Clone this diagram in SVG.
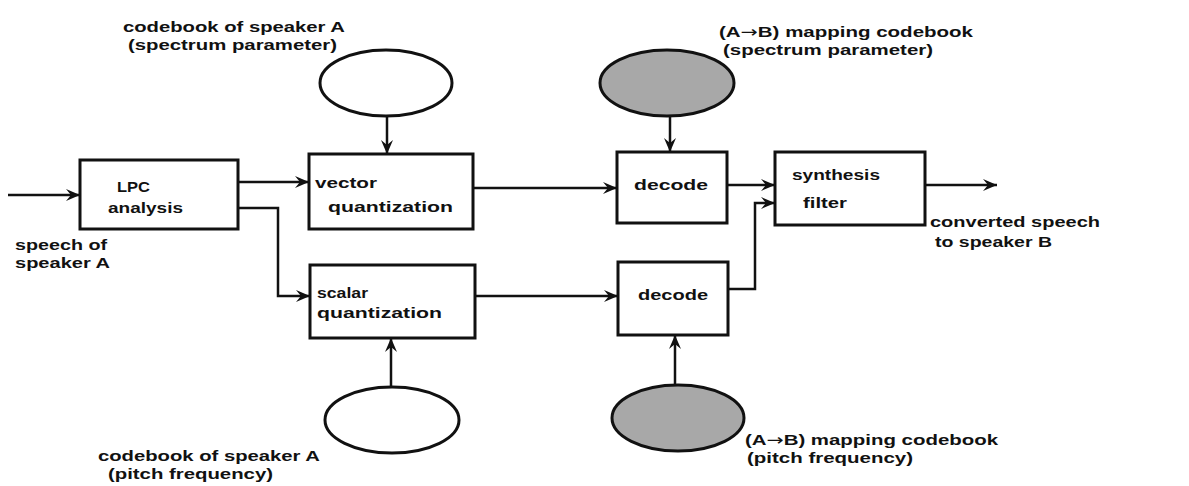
<svg xmlns="http://www.w3.org/2000/svg" width="1189" height="486" viewBox="0 0 1189 486">
<style>
text{font-family:"Liberation Sans",Arial,sans-serif;font-weight:700;font-size:15.5px;fill:#111}
.ar{font-family:"DejaVu Sans",sans-serif;font-weight:400}
.box{fill:none;stroke:#111;stroke-width:3}
.cb{fill:none;stroke:#111;stroke-width:3}
.map{fill:#a8a8a8;stroke:#111;stroke-width:3}
.c{fill:none;stroke:#111;stroke-width:2.5;marker-end:url(#ah)}
</style>
<defs>
<marker id="ah" markerUnits="userSpaceOnUse" markerWidth="16" markerHeight="14" viewBox="-14 -7 16 14" refX="0" refY="0" orient="auto">
<path d="M0,0 L-14,-6 L-9,0 L-14,6 Z" fill="#111"/>
</marker>
</defs>
<rect width="1189" height="486" fill="#fff"/>
<g id="connectors">
<path class="c" d="M8,195 H80"/>
<path class="c" d="M238,182 H309"/>
<path class="c" d="M238,208 H278 V296 H310"/>
<path class="c" d="M387,117 V154"/>
<path class="c" d="M473,188 H617"/>
<path class="c" d="M670,117 V152"/>
<path class="c" d="M727,185 H775"/>
<path class="c" d="M475,296 H618"/>
<path class="c" d="M391,388 V338"/>
<path class="c" d="M675,385 V335"/>
<path class="c" d="M728,289 H755 V203 H775"/>
<path class="c" d="M925,185 H997"/>
</g>
<g id="lpc">
<rect class="box" x="80" y="160" width="158" height="69"/>
<text x="117" y="192" textLength="33" lengthAdjust="spacingAndGlyphs">LPC</text>
<text x="108" y="213" textLength="75" lengthAdjust="spacingAndGlyphs">analysis</text>
</g>
<g id="vq">
<rect class="box" x="309" y="154" width="164" height="75"/>
<text x="315" y="188" textLength="62" lengthAdjust="spacingAndGlyphs">vector</text>
<text x="328" y="212" textLength="125" lengthAdjust="spacingAndGlyphs">quantization</text>
</g>
<g id="sq">
<rect class="box" x="310" y="265" width="165" height="73"/>
<text x="317" y="298" textLength="51" lengthAdjust="spacingAndGlyphs">scalar</text>
<text x="317" y="318" textLength="125" lengthAdjust="spacingAndGlyphs">quantization</text>
</g>
<g id="decode1">
<rect class="box" x="617" y="152" width="110" height="71"/>
<text x="634" y="190" textLength="74" lengthAdjust="spacingAndGlyphs">decode</text>
</g>
<g id="decode2">
<rect class="box" x="618" y="262" width="110" height="73"/>
<text x="638" y="300" textLength="70" lengthAdjust="spacingAndGlyphs">decode</text>
</g>
<g id="synth">
<rect class="box" x="775" y="152" width="150" height="73"/>
<text x="792" y="180" textLength="88" lengthAdjust="spacingAndGlyphs">synthesis</text>
<text x="803" y="208" textLength="44" lengthAdjust="spacingAndGlyphs">filter</text>
</g>
<g id="cbA-spec">
<ellipse class="cb" cx="386" cy="83" rx="66" ry="33"/>
<text x="123" y="32" textLength="222" lengthAdjust="spacingAndGlyphs">codebook of speaker A</text>
<text x="128" y="50" textLength="209" lengthAdjust="spacingAndGlyphs">(spectrum parameter)</text>
</g>
<g id="map-spec">
<ellipse class="map" cx="667" cy="83" rx="67" ry="33"/>
<text x="719" y="37" textLength="254" lengthAdjust="spacingAndGlyphs">(A<tspan class="ar">→</tspan>B) mapping codebook</text>
<text x="723" y="55" textLength="210" lengthAdjust="spacingAndGlyphs">(spectrum parameter)</text>
</g>
<g id="cbA-pitch">
<ellipse class="cb" cx="392" cy="420" rx="67" ry="33"/>
<text x="98" y="461" textLength="222" lengthAdjust="spacingAndGlyphs">codebook of speaker A</text>
<text x="108" y="479" textLength="165" lengthAdjust="spacingAndGlyphs">(pitch frequency)</text>
</g>
<g id="map-pitch">
<ellipse class="map" cx="678" cy="418" rx="66" ry="33"/>
<text x="745" y="445" textLength="253" lengthAdjust="spacingAndGlyphs">(A<tspan class="ar">→</tspan>B) mapping codebook</text>
<text x="747" y="463" textLength="166" lengthAdjust="spacingAndGlyphs">(pitch frequency)</text>
</g>
<g id="input">
<text x="15" y="250" textLength="92" lengthAdjust="spacingAndGlyphs">speech of</text>
<text x="15" y="268" textLength="95" lengthAdjust="spacingAndGlyphs">speaker A</text>
</g>
<g id="output">
<text x="930" y="227" textLength="170" lengthAdjust="spacingAndGlyphs">converted speech</text>
<text x="935" y="247" textLength="117" lengthAdjust="spacingAndGlyphs">to speaker B</text>
</g>
</svg>
